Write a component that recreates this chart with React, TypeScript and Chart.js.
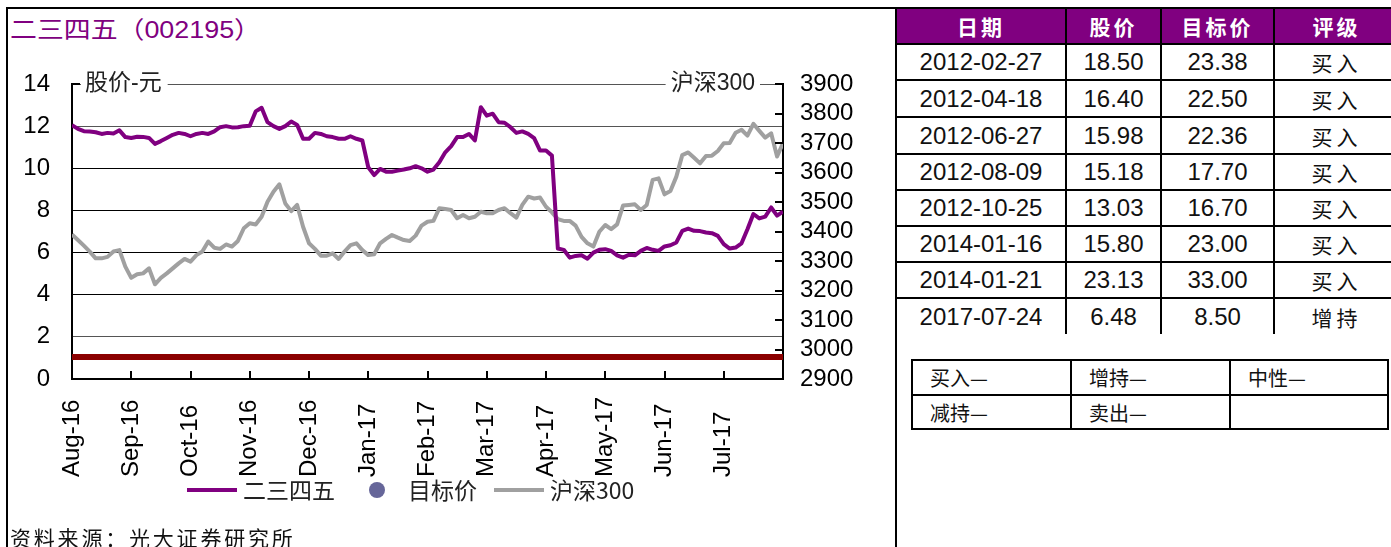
import React, { useEffect, useRef } from "react";
import { Chart, registerables } from "chart.js";

Chart.register(...registerables);

// ---------- data ----------
const monthLabels = ["Aug-16", "Sep-16", "Oct-16", "Nov-16", "Dec-16", "Jan-17", "Feb-17", "Mar-17", "Apr-17", "May-17", "Jun-17", "Jul-17"];
const samplesPerMonth = 10;

// 二三四五 stock price (元), sampled every 0.1 month from Aug-16
const stockPrice = [
  12.05, 11.87, 11.76, 11.75, 11.71, 11.63, 11.68, 11.65, 11.8, 11.48,
  11.44, 11.5, 11.49, 11.44, 11.16, 11.29, 11.44, 11.59, 11.68, 11.63,
  11.52, 11.63, 11.68, 11.63, 11.75, 11.95, 12.0, 11.94, 11.95, 12.0,
  12.02, 12.7, 12.87, 12.19, 12.0, 11.87, 12.0, 12.22, 12.06, 11.4,
  11.4, 11.68, 11.63, 11.52, 11.48, 11.4, 11.4, 11.52, 11.4, 11.32,
  10.05, 9.68, 9.97, 9.84, 9.84, 9.89, 9.94, 10.0, 10.1, 10.0,
  9.84, 9.94, 10.29, 10.76, 11.05, 11.48, 11.48, 11.63, 11.32, 12.9,
  12.5, 12.59, 12.19, 12.16, 11.95, 11.68, 11.75, 11.63, 11.43, 10.84,
  10.84, 10.6, 6.19, 6.13, 5.76, 5.84, 5.87, 5.71, 6.0, 6.13,
  6.16, 6.08, 5.87, 5.76, 5.9, 5.87, 6.08, 6.22, 6.13, 6.08,
  6.29, 6.35, 6.48, 7.03, 7.14, 7.03, 7.02, 6.95, 6.92, 6.79,
  6.4, 6.19, 6.24, 6.44, 7.11, 7.83, 7.62, 7.71, 8.14, 7.75,
  7.94,
];

// 沪深300 index, same sampling
const hs300 = [
  3390, 3371, 3352, 3332, 3309, 3309, 3314, 3332, 3337, 3281,
  3243, 3255, 3258, 3275, 3221, 3243, 3258, 3275, 3292, 3307,
  3298, 3320, 3332, 3366, 3345, 3341, 3356, 3349, 3368, 3411,
  3428, 3424, 3450, 3501, 3535, 3560, 3495, 3469, 3490, 3416,
  3360, 3341, 3318, 3318, 3326, 3307, 3332, 3354, 3360, 3337,
  3320, 3323, 3360, 3375, 3388, 3379, 3371, 3368, 3386, 3420,
  3433, 3436, 3479, 3476, 3473, 3445, 3456, 3445, 3450, 3467,
  3462, 3462, 3473, 3479, 3462, 3447, 3490, 3518, 3512, 3515,
  3484, 3465, 3442, 3436, 3436, 3420, 3382, 3360, 3349, 3399,
  3422, 3408, 3424, 3488, 3490, 3492, 3473, 3490, 3575, 3580,
  3526, 3537, 3586, 3659, 3668, 3650, 3631, 3656, 3657, 3673,
  3699, 3700, 3735, 3745, 3725, 3765, 3741, 3718, 3733, 3654,
  3700,
];

// dark red reference line (start / end)
const refLineMonths = [0, 12];
const refLineValues = [1.05, 1.05];

const leftTicks = { min: 0, max: 14, step: 2 };
const rightTicks = { min: 2900, max: 3900, step: 100 };
const leftAxisTitle = "股价-元";
const rightAxisTitle = "沪深300";

const seriesNames = ["二三四五", "目标价", "沪深300"];

const tableDates = ["2012-02-27", "2012-04-18", "2012-06-27", "2012-08-09", "2012-10-25", "2014-01-16", "2014-01-21", "2017-07-24"];
const tablePrices = ["18.50", "16.40", "15.98", "15.18", "13.03", "15.80", "23.13", "6.48"];
const tableTargets = ["23.38", "22.50", "22.36", "17.70", "16.70", "23.00", "33.00", "8.50"];
const tableRatings = ["买入", "买入", "买入", "买入", "买入", "买入", "买入", "增持"];
const tableHeaders = ["日期", "股价", "目标价", "评级"];
const ratingKey = [["买入—", "增持—", "中性—"], ["减持—", "卖出—", ""]];

const title = "二三四五（002195）";
const sourceNote = "资料来源：光大证券研究所";

// ---------- styles ----------
const PURPLE = "#800080";
const GREY = "#A0A0A0";
const DARKRED = "#8B0000";
const DOT = "#666699";
const LATIN = "'Liberation Sans', Arial, 'Noto Sans CJK SC', sans-serif";
const CJK = "'Noto Sans CJK SC', 'Liberation Sans', sans-serif";

const decorPlugin = {
  id: "decor",
  afterDraw(chart: any) {
    const { ctx, chartArea: a, scales } = chart;
    const xs = scales.x;
    const y1 = scales.y1;
    ctx.save();
    ctx.strokeStyle = "#000";
    ctx.lineWidth = 2;
    // inward tick marks on bottom axis
    for (let m = 1; m < monthLabels.length; m++) {
      const px = Math.round(xs.getPixelForValue(m));
      ctx.beginPath();
      ctx.moveTo(px, a.bottom);
      ctx.lineTo(px, a.bottom - 8);
      ctx.stroke();
    }
    // inward tick marks on right axis
    y1.ticks.forEach((t: any) => {
      const py = Math.round(y1.getPixelForValue(t.value));
      ctx.beginPath();
      ctx.moveTo(a.right, py);
      ctx.lineTo(a.right - 8, py);
      ctx.stroke();
    });
    // inward tick at top of left axis
    ctx.beginPath();
    ctx.moveTo(a.left, a.top);
    ctx.lineTo(a.left + 8, a.top);
    ctx.stroke();

    // axis titles on the top grid line
    ctx.font = `23px ${LATIN}`;
    ctx.textBaseline = "middle";
    const lw = ctx.measureText(leftAxisTitle).width;
    ctx.fillStyle = "#fff";
    ctx.fillRect(a.left + 9, a.top - 4, lw + 10, 8);
    ctx.fillStyle = "#222";
    ctx.textAlign = "left";
    ctx.fillText(leftAxisTitle, a.left + 13, a.top);
    const rw = ctx.measureText(rightAxisTitle).width;
    ctx.fillStyle = "#fff";
    ctx.fillRect(a.right - 28 - rw - 5, a.top - 4, rw + 10, 8);
    ctx.fillStyle = "#222";
    ctx.textAlign = "right";
    ctx.fillText(rightAxisTitle, a.right - 28, a.top);

    // rotated month labels
    ctx.font = `24px ${LATIN}`;
    ctx.fillStyle = "#000";
    ctx.textAlign = "left";
    ctx.textBaseline = "middle";
    monthLabels.forEach((lab, m) => {
      const px = xs.getPixelForValue(m);
      ctx.save();
      ctx.translate(px, a.bottom + 98);
      ctx.rotate(-Math.PI / 2);
      ctx.fillText(lab, 0, 0);
      ctx.restore();
    });

    // legend
    ctx.font = `23px ${CJK}`;
    ctx.textBaseline = "middle";
    ctx.textAlign = "left";
    const ly = a.bottom + 111;
    let cx = 187;
    chart.data.datasets.forEach((ds: any) => {
      if (!ds.label) return;
      if (ds.legendDot) {
        ctx.fillStyle = ds.backgroundColor;
        ctx.beginPath();
        ctx.arc(cx + 25, ly, 8, 0, Math.PI * 2);
        ctx.fill();
      } else {
        ctx.strokeStyle = ds.borderColor;
        ctx.lineWidth = 4;
        ctx.beginPath();
        ctx.moveTo(cx, ly);
        ctx.lineTo(cx + 50, ly);
        ctx.stroke();
      }
      cx += 56;
      ctx.fillStyle = "#222";
      ctx.fillText(ds.label, cx, ly);
      cx += ctx.measureText(ds.label).width + 17;
    });
    ctx.restore();
  },
};

function ChartCanvas() {
  const ref = useRef<HTMLCanvasElement | null>(null);
  useEffect(() => {
    if (!ref.current) return;
    const toXY = (vals: number[]) => vals.map((v, i) => ({ x: i / samplesPerMonth, y: v }));
    const chart = new Chart(ref.current, {
      type: "line",
      data: {
        datasets: [
          {
            label: seriesNames[0],
            data: toXY(stockPrice),
            yAxisID: "y",
            borderColor: PURPLE,
            backgroundColor: PURPLE,
            borderWidth: 4,
            pointRadius: 0,
            tension: 0,
            borderJoinStyle: "round",
            order: 0,
          } as any,
          {
            label: seriesNames[1],
            data: [],
            yAxisID: "y",
            borderColor: DOT,
            backgroundColor: DOT,
            showLine: false,
            legendDot: true,
            order: 1,
          } as any,
          {
            label: seriesNames[2],
            data: toXY(hs300),
            yAxisID: "y1",
            borderColor: GREY,
            backgroundColor: GREY,
            borderWidth: 4,
            pointRadius: 0,
            tension: 0,
            borderJoinStyle: "round",
            order: 2,
          } as any,
          {
            label: "",
            data: refLineMonths.map((m, i) => ({ x: m, y: refLineValues[i] })),
            yAxisID: "y",
            borderColor: DARKRED,
            borderWidth: 6,
            pointRadius: 0,
            order: 3,
          } as any,
        ],
      },
      options: {
        responsive: false,
        animation: false,
        layout: { padding: { top: 84, left: 0, right: 0, bottom: 0 } },
        plugins: { legend: { display: false }, tooltip: { enabled: false } },
        scales: {
          x: {
            type: "linear",
            min: 0,
            max: monthLabels.length,
            ticks: { display: false, stepSize: 1 },
            grid: { display: false },
            border: { color: "#000", width: 2 },
            afterFit: (s: any) => {
              s.height = 168;
            },
          },
          y: {
            position: "left",
            min: leftTicks.min,
            max: leftTicks.max,
            ticks: {
              stepSize: leftTicks.step,
              autoSkip: false,
              color: "#000",
              padding: 22,
              font: { family: LATIN, size: 24 },
              callback: (v: any) => String(v),
            },
            grid: {
              drawTicks: false,
              lineWidth: 1,
              color: (c: any) => (c.tick && (c.tick.value === 14 || c.tick.value === 12 || c.tick.value === 2) ? "#555" : "#000"),
            },
            border: { color: "#000", width: 2 },
            afterFit: (s: any) => {
              s.width = 72;
            },
          },
          y1: {
            position: "right",
            min: rightTicks.min,
            max: rightTicks.max,
            ticks: {
              stepSize: rightTicks.step,
              autoSkip: false,
              color: "#000",
              padding: 17,
              font: { family: LATIN, size: 24 },
              callback: (v: any) => String(v),
            },
            grid: { drawOnChartArea: false, drawTicks: false },
            border: { color: "#000", width: 2 },
            afterFit: (s: any) => {
              s.width = 112;
            },
          },
        },
      } as any,
      plugins: [decorPlugin],
    });
    return () => chart.destroy();
  }, []);
  return <canvas ref={ref} width={895} height={547} style={{ position: "absolute", left: 0, top: 0, width: 895, height: 547 }} />;
}

const cellBase: React.CSSProperties = {
  background: "#fff",
  display: "flex",
  alignItems: "center",
  justifyContent: "center",
  color: "#111",
};

export default function App() {
  const rowHeights = [34, 34, 35, 35, 34, 34, 34, 34, 35];
  return (
    <div style={{ position: "absolute", left: 0, top: 0, width: 1391, height: 547, overflow: "hidden", background: "#fff" }}>
      {/* left frame */}
      <div style={{ position: "absolute", left: 6, top: 7, width: 891, height: 600, border: "2px solid #000", boxSizing: "border-box" }} />
      {/* title */}
      <div
        style={{
          position: "absolute",
          left: 10,
          top: 15,
          height: 30,
          lineHeight: "30px",
          fontFamily: LATIN,
          fontSize: 24,
          color: PURPLE,
          whiteSpace: "nowrap",
          transform: "scaleX(1.12)",
          transformOrigin: "left center",
        }}
      >
        {title}
      </div>
      <ChartCanvas />
      {/* source */}
      <div
        style={{
          position: "absolute",
          left: 10,
          top: 525,
          lineHeight: "24px",
          fontFamily: CJK,
          fontSize: 21,
          letterSpacing: 2.8,
          color: "#111",
          whiteSpace: "nowrap",
        }}
      >
        {sourceNote}
      </div>
      {/* history table */}
      <div
        style={{
          position: "absolute",
          left: 895,
          top: 7,
          width: 505,
          display: "grid",
          gridTemplateColumns: "168px 93px 111px 123px",
          gridTemplateRows: rowHeights.map((h) => `${h}px`).join(" "),
          columnGap: 2,
          rowGap: 2,
          padding: "2px 2px 0 2px",
          background: "#000",
        }}
      >
        {tableHeaders.map((h) => (
          <div
            key={h}
            style={{ ...cellBase, background: PURPLE, color: "#fff", fontFamily: CJK, fontWeight: 700, fontSize: 21, letterSpacing: 3 }}
          >
            {h}
          </div>
        ))}
        {tableDates.map((d, i) => (
          <React.Fragment key={d + i}>
            <div style={{ ...cellBase, fontFamily: LATIN, fontSize: 24 }}>{d}</div>
            <div style={{ ...cellBase, fontFamily: LATIN, fontSize: 24 }}>{tablePrices[i]}</div>
            <div style={{ ...cellBase, fontFamily: LATIN, fontSize: 24 }}>{tableTargets[i]}</div>
            <div style={{ ...cellBase, fontFamily: CJK, fontSize: 21, letterSpacing: 4 }}>{tableRatings[i]}</div>
          </React.Fragment>
        ))}
      </div>
      {/* rating key table */}
      <div
        style={{
          position: "absolute",
          left: 911,
          top: 359,
          width: 478,
          boxSizing: "border-box",
          display: "grid",
          gridTemplateColumns: "157px 157px 156px",
          gridTemplateRows: "33px 32px",
          gap: 2,
          padding: 2,
          background: "#000",
        }}
      >
        {ratingKey.flat().map((t, i) => (
          <div
            key={i}
            style={{ background: "#fff", display: "flex", alignItems: "center", paddingLeft: 17, fontFamily: CJK, fontSize: 20, color: "#111" }}
          >
            {t}
          </div>
        ))}
      </div>
    </div>
  );
}
